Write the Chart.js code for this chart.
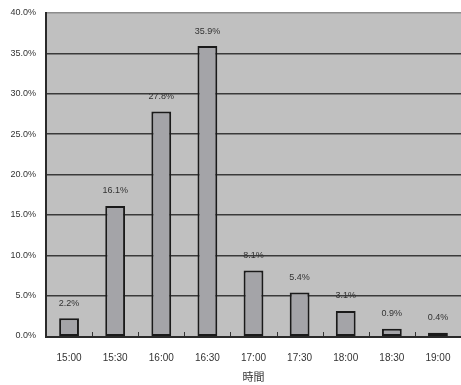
<!DOCTYPE html>
<html>
<head>
<meta charset="utf-8">
<script src="https://cdn.jsdelivr.net/npm/chart.js@4.4.1/dist/chart.umd.min.js"></script>
<style>
  html, body { margin: 0; padding: 0; background: #fff; overflow: hidden; }
  #wrap { width: 461px; height: 385px; }
</style>
</head>
<body>
<div id="wrap"><canvas id="c"></canvas></div>
<script>
// Arrival time distribution
const categories = ['15:00', '15:30', '16:00', '16:30', '17:00', '17:30', '18:00', '18:30', '19:00'];
const shares = [2.2, 16.1, 27.8, 35.9, 8.1, 5.4, 3.1, 0.9, 0.4];
const yTicks = [0, 5, 10, 15, 20, 25, 30, 35, 40];
const axisTitle = '時間';

const FONT = "'Liberation Sans', Arial, sans-serif";
const TEXT = '#333333';

// Grey plot background behind the grid
const plotBackground = {
  id: 'plotBackground',
  beforeDraw(chart) {
    const { ctx, chartArea: a } = chart;
    ctx.save();
    ctx.fillStyle = '#c0c0c0';
    ctx.fillRect(a.left, a.top, a.right - a.left, a.bottom - a.top);
    ctx.restore();
  }
};

// Short tick marks on the category boundaries, pointing up into the plot
const boundaryTicks = {
  id: 'boundaryTicks',
  afterDatasetsDraw(chart) {
    const { ctx, chartArea: a, scales: { x } } = chart;
    const step = (a.right - a.left) / categories.length;
    ctx.save();
    ctx.strokeStyle = '#333333';
    ctx.lineWidth = 1;
    for (let i = 1; i < categories.length; i++) {
      const px = Math.round(x.getPixelForValue(i) - step / 2) + 0.5;
      ctx.beginPath();
      ctx.moveTo(px, a.bottom);
      ctx.lineTo(px, a.bottom - 4);
      ctx.stroke();
    }
    // axis lines
    ctx.strokeStyle = '#2a2a2a';
    ctx.lineWidth = 2;
    ctx.beginPath();
    ctx.moveTo(a.left, a.top - 1);
    ctx.lineTo(a.left, a.bottom + 1);
    ctx.lineTo(a.right, a.bottom + 1);
    ctx.stroke();
    ctx.restore();
  }
};

// Percentage labels above each bar
const valueLabels = {
  id: 'valueLabels',
  afterDatasetsDraw(chart) {
    const { ctx } = chart;
    const meta = chart.getDatasetMeta(0);
    ctx.save();
    ctx.font = '9px ' + FONT;
    ctx.fillStyle = TEXT;
    ctx.textAlign = 'center';
    ctx.textBaseline = 'middle';
    meta.data.forEach((bar, i) => {
      ctx.fillText(shares[i].toFixed(1) + '%', bar.x, bar.y - 15);
    });
    ctx.restore();
  }
};

new Chart(document.getElementById('c'), {
  type: 'bar',
  data: {
    labels: categories,
    datasets: [{
      data: shares,
      backgroundColor: '#a4a4a8',
      borderColor: '#1a1a1a',
      borderWidth: 2,
      borderSkipped: false,
      barPercentage: 0.43,
      categoryPercentage: 1.0
    }]
  },
  options: {
    responsive: true,
    maintainAspectRatio: false,
    animation: false,
    layout: { padding: { top: 13, right: 0, left: 0, bottom: 0 } },
    plugins: {
      legend: { display: false },
      tooltip: { enabled: false }
    },
    scales: {
      x: {
        grid: { display: false },
        border: { display: false },
        ticks: {
          color: TEXT,
          font: { family: FONT, size: 10 },
          padding: 8,
          maxRotation: 0
        },
        title: {
          display: true,
          text: axisTitle,
          color: TEXT,
          font: { family: "'Noto Sans CJK JP', sans-serif", size: 11 },
          padding: { top: 6, bottom: 2 }
        },
        afterFit(scale) { scale.height = 49; }
      },
      y: {
        min: 0,
        max: 40,
        afterBuildTicks(scale) { scale.ticks = yTicks.map(v => ({ value: v })); },
        grid: {
          color: ctx => (ctx.tick && ctx.tick.value === 40) ? '#8c8c8c' : '#3a3a3a',
          lineWidth: ctx => (ctx.tick && ctx.tick.value === 0) ? 0 : 1.5,
          drawTicks: false
        },
        border: { display: false },
        ticks: {
          color: TEXT,
          font: { family: FONT, size: 9 },
          padding: 10,
          callback: v => v.toFixed(1) + '%'
        },
        afterFit(scale) {
          scale.width = 46;
          scale.paddingTop = 0;
          scale.paddingBottom = 0;
        }
      }
    }
  },
  plugins: [plotBackground, boundaryTicks, valueLabels]
});
</script>
</body>
</html>
